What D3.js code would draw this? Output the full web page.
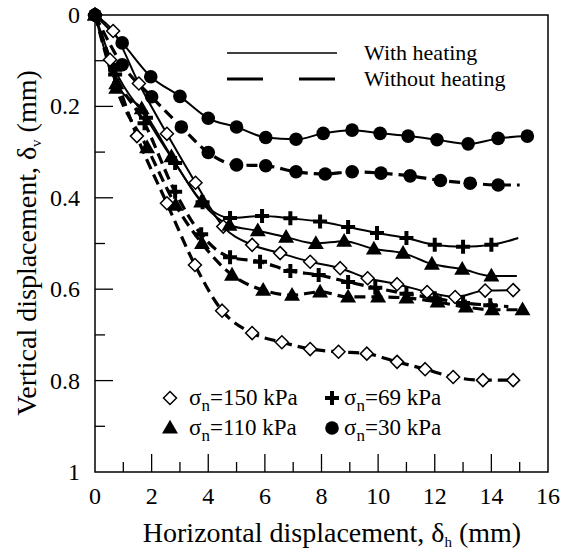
<!DOCTYPE html>
<html>
<head>
<meta charset="utf-8">
<script src="https://cdn.jsdelivr.net/npm/d3@7"></script>
<style>
body { margin: 0; background: #fff; }
</style>
</head>
<body>
<div id="chart"></div>
<script>
// x = horizontal displacement (mm), y = vertical displacement (mm)
var s150Heat = [[0,0],[0.64,0.035],[1.55,0.15],[2.54,0.26],[3.55,0.367],[4.53,0.463],[5.55,0.503],[6.54,0.521],[7.6,0.54],[8.66,0.554],[9.63,0.576],[10.67,0.589],[11.73,0.606],[12.72,0.617],[13.78,0.603],[14.77,0.602]];
var s150NoHeat = [[0,0],[0.53,0.098],[1.48,0.265],[2.54,0.412],[3.53,0.547],[4.49,0.647],[5.55,0.696],[6.6,0.716],[7.6,0.731],[8.6,0.737],[9.6,0.741],[10.67,0.759],[11.66,0.775],[12.65,0.792],[13.7,0.799],[14.77,0.799]];
var s110Heat = [[0,0],[0.75,0.15],[1.65,0.205],[2.7,0.31],[3.75,0.409],[4.75,0.46],[5.75,0.472],[6.75,0.486],[7.8,0.5],[8.8,0.495],[9.85,0.512],[10.88,0.521],[11.9,0.545],[12.97,0.556],[14.0,0.571]];
var s110NoHeat = [[0,0],[0.75,0.16],[1.84,0.29],[2.85,0.416],[3.78,0.5],[4.84,0.569],[5.94,0.602],[6.96,0.613],[7.95,0.606],[8.94,0.617],[10.0,0.617],[11.0,0.619],[12.1,0.628],[13.1,0.639],[14.03,0.645],[15.1,0.645]];
var s69Heat = [[0,0],[0.71,0.12],[1.8,0.225],[2.83,0.324],[3.8,0.41],[4.77,0.444],[5.9,0.44],[6.9,0.445],[7.95,0.452],[8.94,0.464],[9.96,0.477],[11.0,0.488],[12.0,0.503],[13.0,0.507],[14.0,0.503]];
var s69NoHeat = [[0,0],[0.71,0.13],[1.75,0.237],[2.83,0.387],[3.75,0.48],[4.77,0.53],[5.83,0.54],[6.9,0.56],[7.9,0.569],[8.94,0.584],[9.9,0.597],[11.0,0.61],[12.0,0.62],[13.0,0.63],[13.96,0.635]];
var s30Heat = [[0,0],[0.96,0.061],[1.97,0.135],[3.0,0.178],[4.0,0.226],[5.0,0.245],[6.03,0.268],[7.1,0.272],[8.06,0.259],[9.08,0.252],[10.07,0.259],[11.06,0.265],[12.08,0.273],[13.18,0.282],[14.24,0.27],[15.27,0.265]];
var s30NoHeat = [[0,0],[0.96,0.109],[2.0,0.179],[3.05,0.245],[4.0,0.301],[5.0,0.328],[6.03,0.33],[7.1,0.343],[8.13,0.348],[9.08,0.343],[10.1,0.346],[11.13,0.352],[12.2,0.362],[13.25,0.368],[14.24,0.372]];
// line continues past the last marker for some tests
var tails = { s110Heat: [14.9,0.571], s69Heat: [14.95,0.488], s69NoHeat: [14.6,0.638], s30NoHeat: [15.0,0.372] };

var xTicks = [0,2,4,6,8,10,12,14,16];
var yTicks = [0,0.2,0.4,0.6,0.8,1];
var yTickLabels = ["0","0.2","0.4","0.6","0.8","1"];
var legendLoads = ["150","110","69","30"];
var legendKinds = ["With heating","Without heating"];

var series = [
  { name: "s150Heat", data: s150Heat, mark: "diamond", dashed: false },
  { name: "s150NoHeat", data: s150NoHeat, mark: "diamond", dashed: true },
  { name: "s110Heat", data: s110Heat, mark: "triangle", dashed: false },
  { name: "s110NoHeat", data: s110NoHeat, mark: "triangle", dashed: true },
  { name: "s69Heat", data: s69Heat, mark: "plus", dashed: false },
  { name: "s69NoHeat", data: s69NoHeat, mark: "plus", dashed: true },
  { name: "s30Heat", data: s30Heat, mark: "circle", dashed: false },
  { name: "s30NoHeat", data: s30NoHeat, mark: "circle", dashed: true }
];

var W = 561, H = 552;
var L = 95, R = 548, T = 15, B = 472;
var fontStack = "Times New Roman, Tinos, Liberation Serif, serif";

var svg = d3.select("#chart").append("svg").attr("width", W).attr("height", H);

var x = d3.scaleLinear().domain([0,16]).range([L,R]);
var y = d3.scaleLinear().domain([0,1]).range([T,B]);

function label(sel, size) {
  return sel.style("font-family", fontStack).attr("font-size", size).attr("fill", "#000");
}

// frame
svg.append("rect").attr("x", L).attr("y", T).attr("width", R-L).attr("height", B-T)
  .attr("fill","none").attr("stroke","#000").attr("stroke-width",1.5);

// bottom axis, ticks inside
svg.append("g").selectAll("line").data(d3.range(1,16,1)).enter().append("line")
  .attr("x1", function(d){ return x(d); }).attr("x2", function(d){ return x(d); })
  .attr("y1", B).attr("y2", function(d){ return d % 2 == 0 ? B-18 : B-10; })
  .attr("stroke","#000").attr("stroke-width",1.3);
label(svg.append("g").selectAll("text").data(xTicks).enter().append("text"), 24)
  .attr("x", function(d){ return x(d); }).attr("y", B+32).attr("text-anchor","middle")
  .text(function(d){ return d; });

// left axis
svg.append("g").selectAll("line").data(d3.range(1,10,1)).enter().append("line")
  .attr("y1", function(d){ return y(d/10); }).attr("y2", function(d){ return y(d/10); })
  .attr("x1", L).attr("x2", function(d){ return d % 2 == 0 ? L+18 : L+10; })
  .attr("stroke","#000").attr("stroke-width",1.3);
label(svg.append("g").selectAll("text").data(yTicks).enter().append("text"), 24)
  .attr("x", L-15).attr("y", function(d){ return y(d)+8; }).attr("text-anchor","end")
  .text(function(d,i){ return yTickLabels[i]; });

// axis titles
var xt = label(svg.append("text"), 28).attr("x", 332).attr("y", 542).attr("text-anchor","middle");
xt.append("tspan").text("Horizontal displacement, δ");
xt.append("tspan").attr("dy", 5).attr("font-size", 15).text("h");
xt.append("tspan").attr("dy", -5).text(" (mm)");

var yt = label(svg.append("text"), 28).attr("transform","translate(36,243) rotate(-90)").attr("text-anchor","middle");
yt.append("tspan").text("Vertical displacement, δ");
yt.append("tspan").attr("dy", 5).attr("font-size", 15).text("v");
yt.append("tspan").attr("dy", -5).text(" (mm)");

// curves
var line = d3.line().x(function(d){ return x(d[0]); }).y(function(d){ return y(d[1]); })
  .curve(d3.curveMonotoneX);

var plot = svg.append("g");
series.forEach(function(s){
  var pts = s.data.slice();
  if (tails[s.name]) pts.push(tails[s.name]);
  plot.append("path").datum(pts).attr("d", line)
    .attr("fill","none").attr("stroke","#000")
    .attr("stroke-width", s.dashed ? 3.2 : 2)
    .attr("stroke-dasharray", s.dashed ? "11,6" : null);
});

function drawMark(g, kind, cx, cy) {
  if (kind == "circle") {
    g.append("circle").attr("cx",cx).attr("cy",cy).attr("r",6.8).attr("fill","#000");
  } else if (kind == "triangle") {
    g.append("path").attr("transform","translate("+cx+","+(cy+1)+")")
      .attr("d", d3.symbol().type(d3.symbolTriangle).size(110)()).attr("fill","#000");
  } else if (kind == "plus") {
    g.append("path").attr("d","M"+(cx-7)+","+cy+"H"+(cx+7)+"M"+cx+","+(cy-7)+"V"+(cy+7))
      .attr("stroke","#000").attr("stroke-width",4).attr("fill","none");
  } else {
    g.append("path").attr("d","M"+cx+","+(cy-6.5)+"L"+(cx+6.5)+","+cy+"L"+cx+","+(cy+6.5)+"L"+(cx-6.5)+","+cy+"Z")
      .attr("stroke","#000").attr("stroke-width",1.5).attr("fill","#fff");
  }
}

series.forEach(function(s){
  var g = plot.append("g");
  s.data.forEach(function(d){ drawMark(g, s.mark, x(d[0]), y(d[1])); });
});

// legend: line styles
svg.append("line").attr("x1",227).attr("x2",337).attr("y1",53).attr("y2",53)
  .attr("stroke","#000").attr("stroke-width",1.5);
svg.append("line").attr("x1",227).attr("x2",337).attr("y1",79).attr("y2",79)
  .attr("stroke","#000").attr("stroke-width",3.2).attr("stroke-dasharray","36,36");
label(svg.append("text"), 22).attr("x",364).attr("y",60).text(legendKinds[0]);
label(svg.append("text"), 22).attr("x",364).attr("y",86).text(legendKinds[1]);

// legend: loads
var legMarks = ["diamond","triangle","plus","circle"];
var legPos = [[170,398],[170,428],[332,398],[332,428]];
legendLoads.forEach(function(v,i){
  var p = legPos[i];
  drawMark(svg, legMarks[i], p[0], p[1]);
  var t = label(svg.append("text"), 23).attr("x", p[0]+(i < 2 ? 19 : 12)).attr("y", p[1]+7);
  t.append("tspan").text("σ");
  t.append("tspan").attr("dy",6).attr("font-size", 17).text("n");
  t.append("tspan").attr("dy",-6).attr("font-size", 23).text("=" + v + " kPa");
});
</script>
</body>
</html>
